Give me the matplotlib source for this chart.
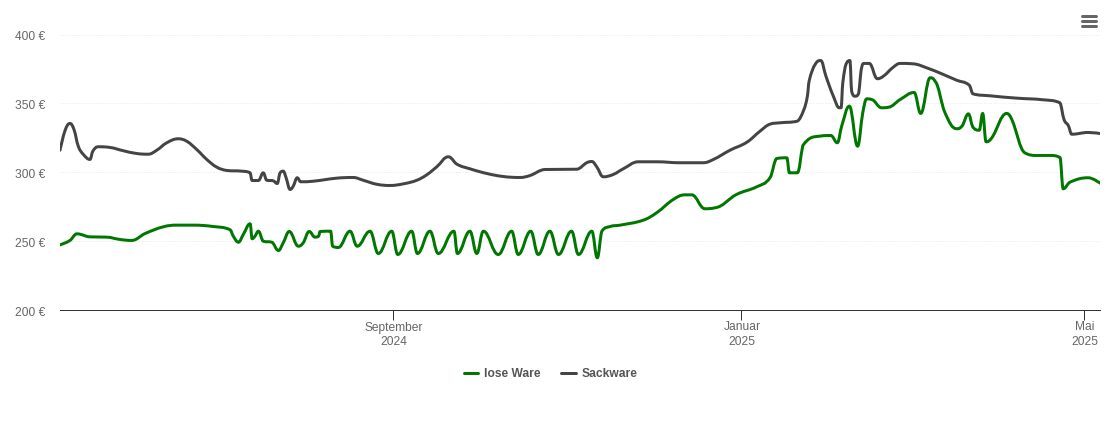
import datetime as dt
import matplotlib
matplotlib.use("Agg")
import matplotlib.pyplot as plt
import matplotlib.dates as mdates
from matplotlib.lines import Line2D
from matplotlib.patches import PathPatch
from matplotlib.path import Path
from matplotlib.transforms import ScaledTranslation

plt.rcParams['font.family'] = ['Liberation Sans', 'DejaVu Sans']

# days counted from the left edge of the chart
lose_days = [0, 3.5, 5.9, 10.5, 16.4, 21, 25.1, 29.8, 36.2, 40.9, 46.7, 53.7, 59.6, 60.7, 62.5, 64.2, 66.6, 67.3,
             68.3, 69.5, 71.2, 74.2, 76.5, 78.2, 80.3, 83.5, 85.2, 87.3, 89.3, 90.6, 91.1, 94.8, 95.5, 97.5, 101.6,
             104.1, 108.6, 111.5, 116.2, 118.3, 123.2, 125.2, 129.6, 132.5, 138, 139.2, 143.6, 146, 148.3, 153.5,
             158.2, 160.5, 164.9, 167.5, 171.6, 174.6, 179.2, 181.6, 186.3, 188.2, 189.8, 192.7, 196.2, 204.3, 209,
             214.8, 218.9, 221.3, 225.9, 229.4, 237, 244, 248.7, 251.1, 254.6, 255.5, 258.3, 260.2, 266.2, 270,
             272.3, 273.8, 276.5, 279.4, 281.2, 282.6, 284.3, 287.8, 290.2, 294.3, 299.2, 301.5, 304.8, 306.5, 310,
             314.1, 315.9, 318.2, 319.7, 322, 323.2, 324.4, 326.4, 331.6, 333.4, 338, 342.1, 346.8, 350.3, 351.4,
             353.8, 360.2, 364.3]
lose_prices = [247.3, 250.5, 255.3, 253.1, 252.9, 251.2, 250.5, 255.5, 260.4, 261.6, 261.6, 260.6, 258.2, 253.6,
               249.2, 254.8, 262.6, 251.7, 253.6, 257.2, 249.9, 249.2, 243.2, 248.8, 257, 246.3, 248.8, 257, 252.9,
               253.6, 257, 257.2, 246.3, 245.4, 257.2, 246.3, 257.2, 241, 257.2, 240.3, 257.2, 241, 257.2, 241,
               257.2, 241, 257.2, 241, 257.2, 240.3, 257.2, 240.3, 257.2, 240.3, 257.2, 240.3, 257.2, 240.3, 257.2,
               237.9, 257.2, 260.6, 261.6, 265.2, 270.6, 280.2, 283.6, 283.6, 273.5, 274.2, 283.9, 289.4, 296, 310,
               310.5, 299.6, 299.6, 319.4, 326.2, 326.7, 321.4, 333.4, 348, 318.9, 343.2, 353.3, 352.8, 346.8, 347.2,
               352.8, 357.9, 342.7, 368.6, 366.1, 343.2, 331.6, 333.4, 342.4, 333, 330.5, 342.7, 322.1, 325, 342.7,
               338.3, 314.1, 312.2, 312.2, 310.7, 288, 292.8, 296, 292.1]

sack_days = [0, 1.8, 3.5, 4.9, 6.4, 8.2, 10.5, 11.5, 13.4, 17.5, 22.2, 26.9, 30.9, 33.9, 37.4, 41.4, 44.4, 47.9,
             51.4, 54.9, 58.4, 63.6, 66.6, 67.3, 69.5, 71.2, 72.4, 74.7, 76.1, 77.1, 78.2, 79.2, 80.6, 81.7, 83.1,
             84.3, 88.7, 96.9, 102.7, 106.2, 110.9, 115.6, 120.3, 125, 128.5, 132, 136, 136.9, 139, 143.6, 149.5,
             155.3, 161.1, 164.6, 169.9, 181, 184.5, 186.3, 188, 190.3, 193.8, 197.3, 202.6, 209, 217.2, 225.3,
             228.9, 234.7, 240.6, 245.2, 248.7, 252.2, 258.3, 260.6, 261.8, 262.4, 264.5, 266.5, 268.3, 270.9, 273,
             273.6, 274.2, 275.6, 276.7, 277.3, 278.5, 279.6, 280.8, 281.6, 283.5, 286.3, 288.4, 291.9, 294.3,
             298.9, 303.6, 309.4, 314.1, 318.5, 319.7, 325.8, 335.1, 344.4, 350.3, 351.7, 353.2, 354.4, 360.2, 364.3]
sack_prices = [316, 330.5, 335.4, 331, 318.9, 312.9, 309.3, 315.3, 318.5, 318, 315.6, 313.6, 313.1, 316, 321.4,
               324.3, 322.5, 316.5, 309.3, 303.7, 301.3, 300.8, 299.6, 294, 294, 299.6, 294.2, 293.8, 291.8, 299.6,
               300.8, 296, 287.5, 289.9, 296, 293.1, 293.5, 295.7, 296.2, 294.2, 291.3, 290.4, 291.6, 294.2, 298.2,
               304, 311.2, 310.5, 305.9, 302.5, 299.1, 296.9, 296.2, 297.6, 302, 302.2, 306.9, 307.8, 304, 296.7,
               298.4, 302.5, 307.6, 307.6, 306.9, 306.9, 309.3, 316, 321.8, 329.8, 334.9, 335.9, 337.1, 345.6, 355.2,
               366.1, 378.2, 381.1, 369.7, 355.2, 346.8, 346.8, 364.9, 379.5, 381.1, 358.8, 355.2, 356.5, 375.8, 379,
               379, 367.9, 369.7, 376.3, 379, 378.7, 375.8, 371, 366.8, 363.2, 357, 355.5, 353.8, 352.6, 350.4,
               338.3, 333.9, 327.6, 328.9, 328.1]

y_ticks = [200, 250, 300, 350, 400]
x_tick_dates = [dt.date(2024, 9, 1), dt.date(2025, 1, 1), dt.date(2025, 5, 1)]
x_tick_labels = ['September\n2024', 'Januar\n2025', 'Mai\n2025']

W, H = 1110, 423
px = 72 / 100  # one pixel in points


def spline_path(xs, ys):
    # smooth curve through the points, no overshoot past a local peak
    verts = [(xs[0], ys[0])]
    codes = [Path.MOVETO]
    n = len(xs)
    right = (xs[0], ys[0])
    for i in range(1, n):
        x, y = xs[i], ys[i]
        if i < n - 1:
            lx, ly = (1.5 * x + xs[i - 1]) / 2.5, (1.5 * y + ys[i - 1]) / 2.5
            rx, ry = (1.5 * x + xs[i + 1]) / 2.5, (1.5 * y + ys[i + 1]) / 2.5
            corr = (ry - ly) * (rx - x) / (rx - lx) + y - ry
            ly += corr
            ry += corr
            if ly > y and ly > ys[i - 1]:
                ly = max(y, ys[i - 1])
                ry = 2 * y - ly
            elif ly < y and ly < ys[i - 1]:
                ly = min(y, ys[i - 1])
                ry = 2 * y - ly
            if ry > y and ry > ys[i + 1]:
                ry = max(y, ys[i + 1])
                ly = 2 * y - ry
            elif ry < y and ry < ys[i + 1]:
                ry = min(y, ys[i + 1])
                ly = 2 * y - ry
        else:
            lx, ly = x, y
            rx, ry = x, y
        verts += [right, (lx, ly), (x, y)]
        codes += [Path.CURVE4] * 3
        right = (rx, ry)
    return Path(verts, codes)


fig = plt.figure(figsize=(W / 100, H / 100), dpi=100)
ax = fig.add_axes([60 / W, 1 - 310 / H, 1040 / W, 275.5 / H])

start = mdates.date2num(dt.date(2024, 5, 7)) + 0.4
series = [(lose_days, lose_prices, '#007700', 'lose Ware'),
          (sack_days, sack_prices, '#444444', 'Sackware')]
handles = []
for days, prices, color, name in series:
    xs = [start + d for d in days]
    ax.add_patch(PathPatch(spline_path(xs, prices), fill=False, edgecolor=color, lw=3 * px,
                           capstyle='round', joinstyle='round', zorder=3))
    handles.append(Line2D([], [], color=color, lw=3 * px, label=name, solid_capstyle='round'))

ax.set_xlim(start, start + 364.3)
ax.set_ylim(200, 400)
for s in ['top', 'left', 'right']:
    ax.spines[s].set_visible(False)
ax.spines['bottom'].set_color('#333333')
ax.spines['bottom'].set_linewidth(1 * px)

ax.set_yticks(y_ticks)
ax.set_yticklabels([f'{v} €' for v in y_ticks])
ax.set_xticks([mdates.date2num(d) for d in x_tick_dates])
ax.set_xticklabels(x_tick_labels, linespacing=1.3)
ax.tick_params(axis='y', length=0, pad=15 * px, labelsize=12 * px, labelcolor='#666666')
ax.tick_params(axis='x', length=10 * px, width=1 * px, color='#333333', pad=1.5 * px,
               labelsize=12 * px, labelcolor='#666666')
ax.grid(axis='y', color='#e6e6e6', lw=1 * px, linestyle=(0, (1, 2)))
ax.set_axisbelow(True)

# month labels sit one pixel right of their ticks, price labels one pixel low
shift_x = ScaledTranslation(1 / 100, 0, fig.dpi_scale_trans)
for lab in ax.get_xticklabels():
    lab.set_transform(lab.get_transform() + shift_x)
shift_y = ScaledTranslation(0, -1 / 100, fig.dpi_scale_trans)
for lab in ax.get_yticklabels():
    lab.set_transform(lab.get_transform() + shift_y)

fig.legend(handles=handles, loc='center', bbox_to_anchor=(550.5 / W, 1 - 374 / H), ncol=2, frameon=False,
           handlelength=1.2, handletextpad=0.48, columnspacing=1.72,
           prop={'size': 12 * px, 'weight': 'bold'}, labelcolor='#555555')

# export menu icon
for y in [16, 21, 26]:
    fig.add_artist(Line2D([1081.5 / W, 1095.5 / W], [1 - y / H, 1 - y / H], color='#666666', lw=3 * px,
                          solid_capstyle='round'))

fig.savefig('out.png', dpi=100)
